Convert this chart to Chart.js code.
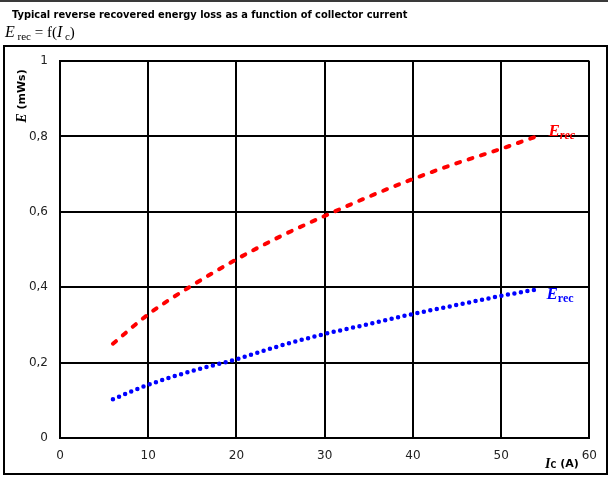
<!DOCTYPE html>
<html>
<head>
<meta charset="utf-8">
<script src="https://cdn.jsdelivr.net/npm/chart.js@4.4.1/dist/chart.umd.min.js"></script>
<style>
  html, body { margin: 0; padding: 0; background: #fff; }
  #chart { display: block; }
</style>
</head>
<body>
<canvas id="chart" width="608" height="477"></canvas>
<script>
// collector current (A)
const currents = [6, 10, 15, 20, 25, 30, 35, 40, 45, 50, 54];
// reverse recovered energy (mWs), two curves
const erecRed = [0.25, 0.328, 0.405, 0.474, 0.535, 0.589, 0.64, 0.687, 0.729, 0.767, 0.80];
const erecBlue = [0.103, 0.141, 0.178, 0.209, 0.245, 0.276, 0.302, 0.329, 0.353, 0.377, 0.394];
const xTicks = [0, 10, 20, 30, 40, 50, 60];
const yTicks = [0, 0.2, 0.4, 0.6, 0.8, 1];

const titleText = "Typical reverse recovered energy loss as a function of collector current";
const serif = '"Liberation Serif", "DejaVu Serif", serif';
const sans = '"DejaVu Sans", Verdana, sans-serif';

function toPoints(ys) {
    return currents.map((x, i) => ({ x: x, y: ys[i] }));
}

// draws a run of [text, font, dy] pieces starting at x, returns end x
function drawRun(ctx, parts, x, y) {
    parts.forEach(p => {
        ctx.font = p[1];
        ctx.fillText(p[0], x, y + (p[2] || 0));
        x += ctx.measureText(p[0]).width;
    });
    return x;
}
function runWidth(ctx, parts) {
    let w = 0;
    parts.forEach(p => { ctx.font = p[1]; w += ctx.measureText(p[0]).width; });
    return w;
}

const framePlugin = {
    id: "frame",
    beforeDraw(chart) {
        const ctx = chart.ctx;
        ctx.save();
        ctx.fillStyle = "#fff";
        ctx.fillRect(0, 0, chart.width, chart.height);
        ctx.fillStyle = "#3a3a3a";
        ctx.fillRect(0, 0, chart.width, 2);

        // title, fitted to the reference width
        ctx.fillStyle = "#000";
        ctx.textBaseline = "alphabetic";
        ctx.font = "bold 10px " + sans;
        const w10 = ctx.measureText(titleText).width;
        const size = Math.min(11, 10 * 396 / w10);
        ctx.font = "bold " + size.toFixed(2) + "px " + sans;
        ctx.fillText(titleText, 12, 18);

        drawRun(ctx, [
            ["E", "italic 16px " + serif],
            [" rec", "11px " + serif, 3],
            [" = f(", "15px " + serif],
            ["I", "italic 16px " + serif],
            [" c", "11px " + serif, 3],
            [")", "15px " + serif]
        ], 5, 37);

        ctx.strokeStyle = "#000";
        ctx.lineWidth = 2;
        ctx.strokeRect(4, 46, 603, 428);
        ctx.restore();
    },
    afterDraw(chart) {
        const ctx = chart.ctx;
        const xs = chart.scales.x, ys = chart.scales.y;
        ctx.save();
        ctx.fillStyle = "#000";
        ctx.textBaseline = "middle";

        // y axis title
        const yParts = [["E", "bold italic 14px " + serif], [" (mWs)", "bold 11px " + sans]];
        ctx.translate(22, 96);
        ctx.rotate(-Math.PI / 2);
        drawRun(ctx, yParts, -runWidth(ctx, yParts) / 2, 0);
        ctx.setTransform(1, 0, 0, 1, 0, 0);

        // x axis title
        drawRun(ctx, [
            ["I", "bold italic 14px " + serif],
            ["C", "bold 8px " + sans, 2],
            [" (A)", "bold 11px " + sans]
        ], 545, 464);

        // curve labels next to the curve ends
        ctx.textBaseline = "alphabetic";
        const last = currents.length - 1;
        ctx.fillStyle = "#ff0000";
        drawRun(ctx, [["E", "bold italic 17px " + serif], ["rec", "bold italic 12px " + serif, 3]],
            xs.getPixelForValue(currents[last]) + 12, ys.getPixelForValue(erecRed[last]));
        ctx.fillStyle = "#0000ff";
        drawRun(ctx, [["E", "bold italic 17px " + serif], ["rec", "bold 12px " + serif, 3]],
            xs.getPixelForValue(currents[last]) + 10, ys.getPixelForValue(erecBlue[last]) + 10);
        ctx.restore();
    }
};

function fmt(v) {
    return String(+v.toFixed(1)).replace(".", ",");
}

new Chart(document.getElementById("chart"), {
    type: "line",
    data: {
        datasets: [{
            label: "Erec red",
            data: toPoints(erecRed),
            borderColor: "#ff0000",
            borderWidth: 4,
            borderDash: [4, 9],
            borderCapStyle: "round",
            cubicInterpolationMode: "monotone",
            pointRadius: 0,
            fill: false
        }, {
            label: "Erec blue",
            data: toPoints(erecBlue),
            borderColor: "#0000ff",
            borderWidth: 4.5,
            borderDash: [0, 6.6],
            borderCapStyle: "round",
            cubicInterpolationMode: "monotone",
            pointRadius: 0,
            fill: false
        }]
    },
    options: {
        responsive: false,
        animation: false,
        devicePixelRatio: 1,
        layout: { padding: { top: 61, right: 18, left: 0, bottom: 0 } },
        plugins: {
            legend: { display: false },
            title: { display: false },
            tooltip: { enabled: false }
        },
        scales: {
            x: {
                type: "linear",
                min: 0,
                max: 60,
                afterBuildTicks: s => { s.ticks = xTicks.map(v => ({ value: v })); },
                afterFit: s => { s.height = 39; },
                ticks: {
                    font: { family: sans, size: 12 },
                    color: "#222",
                    padding: 11,
                    maxRotation: 0
                },
                grid: { color: "#000", lineWidth: 2, drawTicks: false },
                border: { color: "#000", width: 2 }
            },
            y: {
                min: 0,
                max: 1,
                afterBuildTicks: s => { s.ticks = yTicks.map(v => ({ value: v })); },
                afterFit: s => { s.width = 60; },
                ticks: {
                    font: { family: sans, size: 12 },
                    color: "#222",
                    padding: 12,
                    callback: v => fmt(v)
                },
                grid: { color: "#000", lineWidth: 2, drawTicks: false },
                border: { color: "#000", width: 2 }
            }
        }
    },
    plugins: [framePlugin]
});
</script>
</body>
</html>
